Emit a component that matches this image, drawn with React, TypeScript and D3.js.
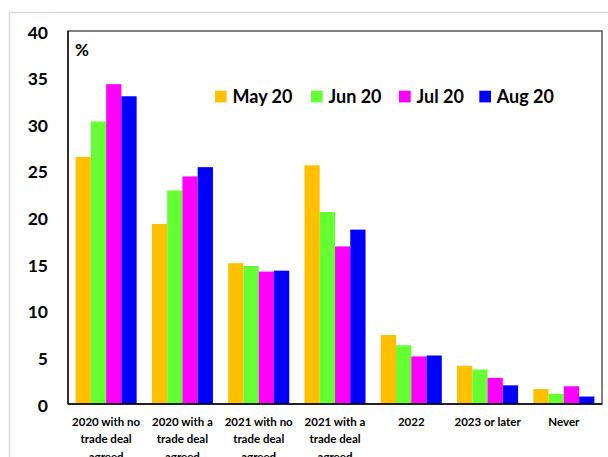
import React from "react";
import * as d3 from "d3";

const categories: string[][] = [
  ["2020 with no", "trade deal", "agreed"],
  ["2020 with a", "trade deal", "agreed"],
  ["2021 with no", "trade deal", "agreed"],
  ["2021 with a", "trade deal", "agreed"],
  ["2022"],
  ["2023 or later"],
  ["Never"],
];

const seriesNames = ["May 20", "Jun 20", "Jul 20", "Aug 20"];
const seriesColors = ["#FFC000", "#66FF33", "#FF00FF", "#0000FF"];

const may20 = [26.5, 19.3, 15.1, 25.6, 7.4, 4.1, 1.6];
const jun20 = [30.3, 22.9, 14.8, 20.6, 6.3, 3.7, 1.1];
const jul20 = [34.3, 24.4, 14.2, 16.9, 5.1, 2.8, 1.9];
const aug20 = [33.0, 25.4, 14.3, 18.7, 5.2, 2.0, 0.8];

const seriesValues = [may20, jun20, jul20, aug20];
const yTicks = [0, 5, 10, 15, 20, 25, 30, 35, 40];

const W = 608;
const H = 457;
const plot = { left: 68, right: 602, top: 31, bottom: 404 };
const FONT = "Lato, 'Open Sans', sans-serif";

export default function App() {
  const x0 = d3
    .scaleBand<number>()
    .domain(d3.range(categories.length))
    .range([plot.left, plot.right])
    .paddingInner(0.2)
    .paddingOuter(0.1);
  const x1 = d3
    .scaleBand<number>()
    .domain(d3.range(seriesNames.length))
    .range([0, x0.bandwidth()]);
  const y = d3.scaleLinear().domain([0, 40]).range([plot.bottom, plot.top]);

  const legendX = [215, 311, 399, 479.3];

  return (
    <div style={{ position: "fixed", left: 0, top: 0, width: W, height: H, background: "#fff" }}>
      <svg width={W} height={H} style={{ display: "block" }} fontFamily={FONT}>
        <rect x={0} y={0} width={W} height={H} fill="#fff" />
        {/* outer chart frame */}
        <line x1={9.5} y1={12.5} x2={W} y2={12.5} stroke="#d9d9d9" strokeWidth={1.5} />
        <line x1={9.5} y1={12.5} x2={9.5} y2={H} stroke="#d9d9d9" strokeWidth={1.5} />

        {/* bars */}
        {seriesValues.map((vals, s) =>
          vals.map((v, i) => (
            <rect
              key={`${s}-${i}`}
              x={(x0(i) ?? 0) + (x1(s) ?? 0)}
              y={y(v)}
              width={x1.bandwidth()}
              height={y(0) - y(v)}
              fill={seriesColors[s]}
            />
          ))
        )}

        {/* plot frame */}
        <rect
          x={plot.left}
          y={plot.top}
          width={plot.right - plot.left}
          height={plot.bottom - plot.top}
          fill="none"
          stroke="#404040"
          strokeWidth={1.3}
        />
        <line x1={plot.left} y1={plot.top} x2={plot.left} y2={plot.bottom} stroke="#000" strokeWidth={1.3} />
        <line x1={plot.left} y1={plot.bottom} x2={plot.right} y2={plot.bottom} stroke="#000" strokeWidth={1.5} />

        {/* y tick labels */}
        {yTicks.map((t) => (
          <text
            key={t}
            x={48}
            y={y(t) + 1}
            textAnchor="end"
            dominantBaseline="central"
            fontSize={17.5}
            fontWeight={700}
            fill="#000"
          >
            {t}
          </text>
        ))}

        <text x={75} y={56} fontSize={17} fontWeight={700} fill="#000">
          %
        </text>

        {/* category labels */}
        {categories.map((lines, i) => (
          <text
            key={i}
            textAnchor="middle"
            fontSize={11.5}
            fontWeight={700}
            fill="#000"
          >
            {lines.map((ln, j) => (
              <tspan key={j} x={(x0(i) ?? 0) + x0.bandwidth() / 2} y={425.5 + j * 17.5}>
                {ln}
              </tspan>
            ))}
          </text>
        ))}

        {/* legend */}
        {seriesNames.map((name, s) => (
          <g key={name} transform={`translate(${legendX[s]},0)`}>
            <rect x={0} y={90.7} width={11.7} height={11.7} fill={seriesColors[s]} />
            <text x={17.5} y={102.5} fontSize={18} fontWeight={700} fill="#000">
              {name}
            </text>
          </g>
        ))}
      </svg>
    </div>
  );
}
